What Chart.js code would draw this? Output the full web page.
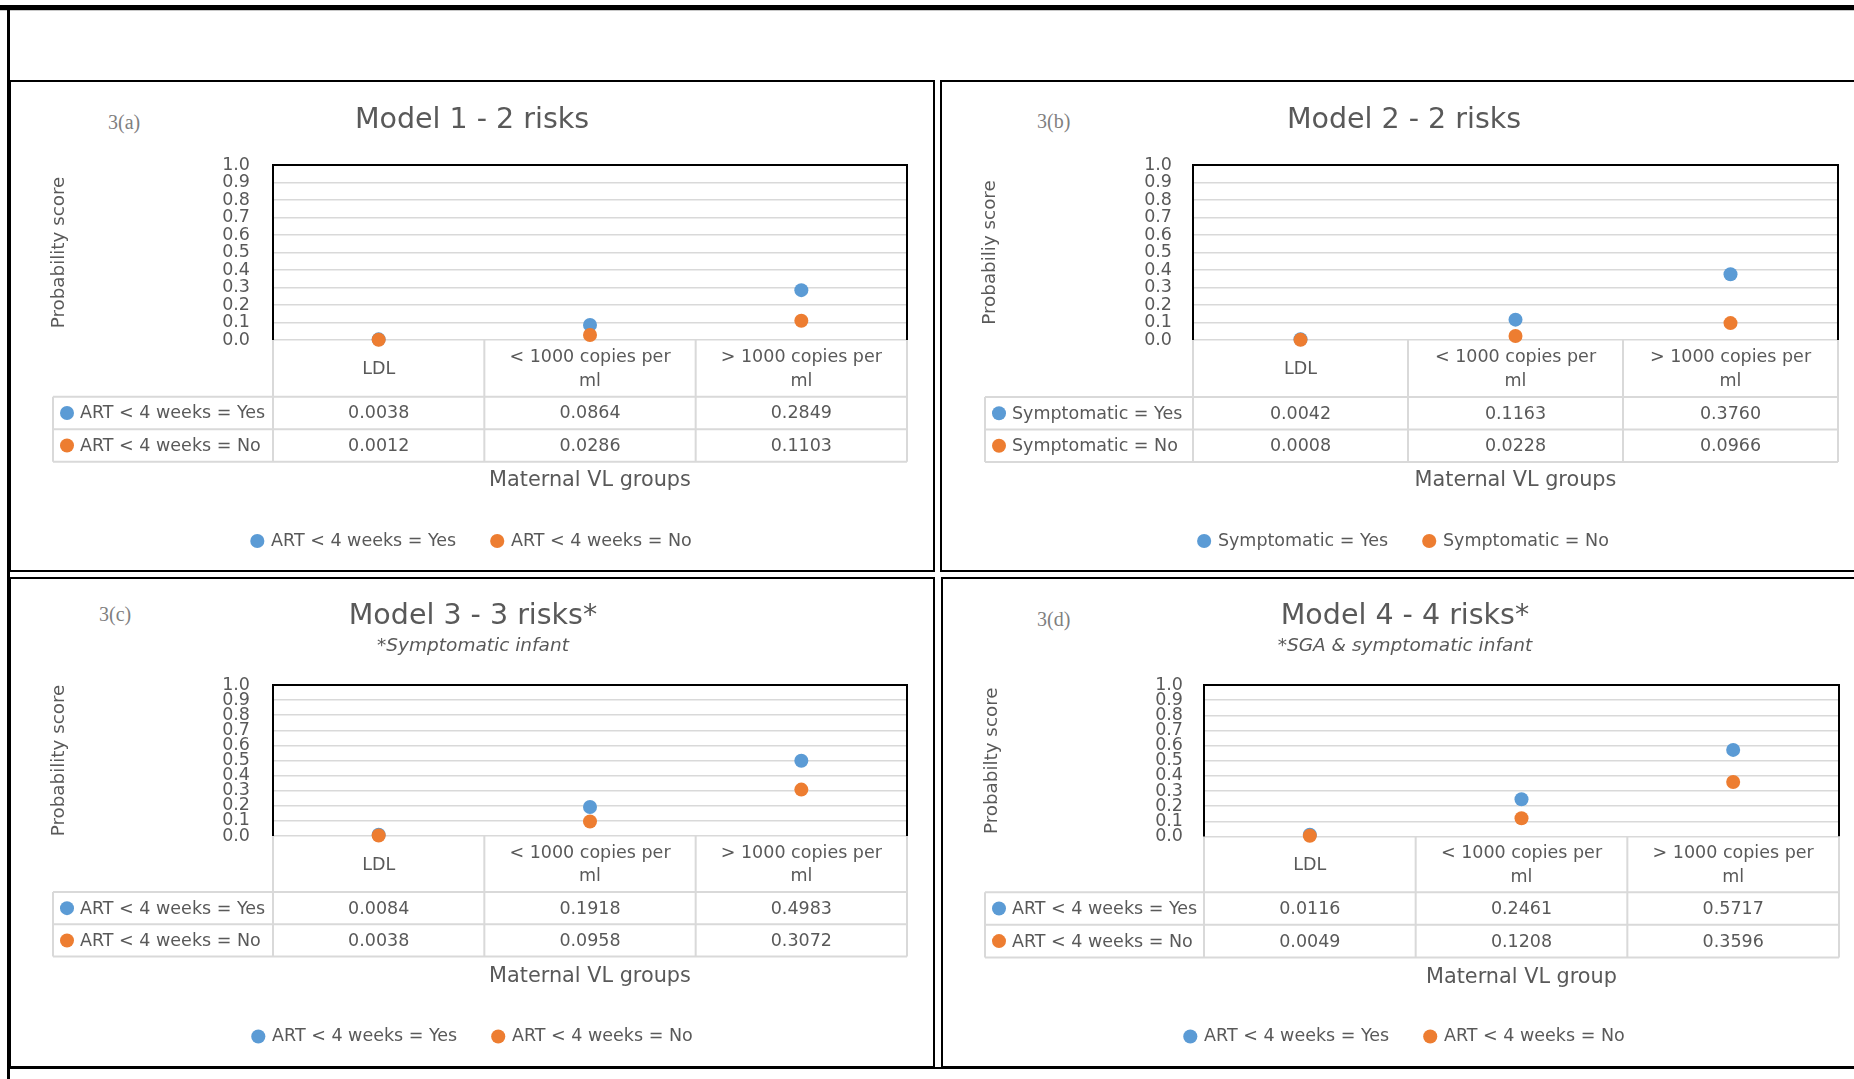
<!DOCTYPE html>
<html>
<head>
<meta charset="utf-8">
<title>Probability score by maternal VL group</title>
<script src="https://cdn.jsdelivr.net/npm/chart.js@4.4.1/dist/chart.umd.min.js"></script>
<style>
  body { margin: 0; background: #fff; }
  #page { position: relative; width: 1854px; height: 1079px; overflow: hidden; background: #fff; }
  .rule { position: absolute; background: #000; }
  .box { position: absolute; box-sizing: border-box; border: 2px solid #000; }
  .tag { position: absolute; font-family: 'Liberation Serif', 'DejaVu Serif', serif; font-size: 20px; line-height: 20px; color: #7f7f7f; }
  canvas { position: absolute; }
</style>
</head>
<body>
<div id="page">
  <div class="rule" style="left:0;top:5px;width:1854px;height:5px"></div>
  <div class="rule" style="left:0;top:10px;width:1854px;height:1px;background:#c8c8c8"></div>
  <div class="rule" style="left:7px;top:10px;width:3px;height:1069px"></div>
  <div class="box" style="left:9px;top:80px;width:926px;height:492px"></div>
  <div class="box" style="left:940px;top:80px;width:940px;height:492px"></div>
  <div class="box" style="left:9px;top:577px;width:926px;height:491px"></div>
  <div class="box" style="left:941px;top:577px;width:940px;height:491px"></div>
  <div class="rule" style="left:7px;top:1067px;width:1847px;height:2px"></div>
</div>
<script>
// categories (x axis / table header), split over two lines like the original
const categories = [['LDL'], ['< 1000 copies per', 'ml'], ['> 1000 copies per', 'ml']];

const panelTags = ['3(a)', '3(b)', '3(c)', '3(d)'];
const modelTitles = ['Model 1 - 2 risks', 'Model 2 - 2 risks', 'Model 3 - 3 risks*', 'Model 4 - 4 risks*'];
const modelNotes = ['', '', '*Symptomatic infant', '*SGA & symptomatic infant'];
const yTitles = ['Probability score', 'Probabiliy score', 'Probability score', 'Probabilty score'];
const xTitles = ['Maternal VL groups', 'Maternal VL groups', 'Maternal VL groups', 'Maternal VL group'];
const yesNames = ['ART < 4 weeks = Yes', 'Symptomatic = Yes', 'ART < 4 weeks = Yes', 'ART < 4 weeks = Yes'];
const noNames = ['ART < 4 weeks = No', 'Symptomatic = No', 'ART < 4 weeks = No', 'ART < 4 weeks = No'];

const model1Yes = [0.0038, 0.0864, 0.2849];
const model1No = [0.0012, 0.0286, 0.1103];
const model2Yes = [0.0042, 0.1163, 0.3760];
const model2No = [0.0008, 0.0228, 0.0966];
const model3Yes = [0.0084, 0.1918, 0.4983];
const model3No = [0.0038, 0.0958, 0.3072];
const model4Yes = [0.0116, 0.2461, 0.5717];
const model4No = [0.0049, 0.1208, 0.3596];

const yesSeries = [model1Yes, model2Yes, model3Yes, model4Yes];
const noSeries = [model1No, model2No, model3No, model4No];

// page geometry of each panel (px)
const panelGeom = [
  { box: [12, 83, 921, 486], plot: [273, 907, 165, 340], titleX: 472, titleY: 121, noteY: 0, yTitleX: 59, tickRight: 250,
    headerH: 56.7, rowH: 32.5, lineH: 24, tableLeft: 53, xTitleY: 481, legendY: 541, tag: [108, 122] },
  { box: [943, 83, 923, 486], plot: [1193, 1838, 165, 340], titleX: 1404, titleY: 121, noteY: 0, yTitleX: 990, tickRight: 1172,
    headerH: 57, rowH: 32.5, lineH: 24, tableLeft: 985, xTitleY: 481, legendY: 541, tag: [1037, 121] },
  { box: [12, 579, 921, 487], plot: [273, 907, 685, 836], titleX: 473, titleY: 617, noteY: 646, yTitleX: 59, tickRight: 250,
    headerH: 56, rowH: 32.3, lineH: 23.3, tableLeft: 53, xTitleY: 977, legendY: 1036.5, tag: [99, 614] },
  { box: [943, 579, 923, 487], plot: [1204, 1839, 685, 836.5], titleX: 1405, titleY: 617, noteY: 646.5, yTitleX: 992, tickRight: 1183,
    headerH: 55.7, rowH: 32.6, lineH: 23.3, tableLeft: 985, xTitleY: 978, legendY: 1036.5, tag: [1037, 619] }
];

const FONT = "'DejaVu Sans', sans-serif";
const TXT = '#595959';
const BLUE = '#5B9BD5';
const ORANGE = '#ED7D31';
const fs = 17.5;
const titleSize = 28.5, titleLH = titleSize * 1.2;
const noteSize = 18.5, noteLH = noteSize * 1.2;
const xTitleSize = 20.8, xTitleLH = xTitleSize * 1.2;
const yTitleSize = 18.3, yTitleLH = yTitleSize * 1.2;
const legendPad = 36;

// plot frame (top/right) + data table under the plot
const dataTable = {
  id: 'dataTable',
  afterDraw(chart, args, o) {
    const { ctx, chartArea: a, scales: { x } } = chart;
    const n = chart.data.labels.length;
    const colW = (a.right - a.left) / n;
    const head = a.bottom + o.headerH;
    const sets = chart.data.datasets;
    const bottom = head + o.rowH * sets.length;
    ctx.save();
    ctx.strokeStyle = '#000';
    ctx.lineWidth = 2;
    ctx.beginPath();
    ctx.moveTo(a.left - 1, a.top);
    ctx.lineTo(a.right, a.top);
    ctx.lineTo(a.right, a.bottom);
    ctx.stroke();

    ctx.strokeStyle = '#d9d9d9';
    ctx.beginPath();
    for (let c = 0; c <= n; c++) {
      const ex = c < n ? x.getPixelForValue(c) - colW / 2 : a.right;
      ctx.moveTo(ex, a.bottom);
      ctx.lineTo(ex, bottom);
    }
    ctx.moveTo(o.tableLeft, head);
    ctx.lineTo(o.tableLeft, bottom);
    for (let r = 0; r <= sets.length; r++) {
      ctx.moveTo(o.tableLeft, head + r * o.rowH);
      ctx.lineTo(a.right, head + r * o.rowH);
    }
    ctx.stroke();

    ctx.font = fs + "px " + FONT;
    ctx.fillStyle = TXT;
    ctx.textBaseline = 'middle';
    sets.forEach((ds, r) => {
      const cy = head + o.rowH * (r + 0.5);
      ctx.fillStyle = ds.backgroundColor;
      ctx.beginPath();
      ctx.arc(o.tableLeft + 14, cy, 7, 0, Math.PI * 2);
      ctx.fill();
      ctx.fillStyle = TXT;
      ctx.textAlign = 'left';
      ctx.fillText(ds.label, o.tableLeft + 27, cy + 1);
      ctx.textAlign = 'center';
      ds.data.forEach((v, c) => ctx.fillText(v.toFixed(4), x.getPixelForValue(c), cy + 1));
    });
    ctx.restore();
  }
};

const page = document.getElementById('page');

function makePanel(i) {
  const g = panelGeom[i];
  const [bx, by, bw, bh] = g.box;

  const tag = document.createElement('div');
  tag.className = 'tag';
  tag.textContent = panelTags[i];
  tag.style.left = g.tag[0] + 'px';
  tag.style.top = (g.tag[1] - 10) + 'px';
  page.appendChild(tag);

  const canvas = document.createElement('canvas');
  canvas.width = bw;
  canvas.height = bh;
  canvas.style.left = bx + 'px';
  canvas.style.top = by + 'px';
  canvas.style.width = bw + 'px';
  canvas.style.height = bh + 'px';
  page.appendChild(canvas);

  const pl = g.plot[0] - bx, pr = g.plot[1] - bx, pt = g.plot[2] - by, pb = g.plot[3] - by;
  const padRight = bw - pr;
  const padLeft = 2 * (g.titleX - bx) - pr;
  const yAxisW = pl - padLeft;
  const yTitlePad = (g.yTitleX - bx) - padLeft - yTitleLH / 2;

  const titleTop = (g.titleY - by) - titleLH / 2;
  let titlePad, notePad = 0;
  if (modelNotes[i]) {
    const tBottom = titleTop + titleLH;
    const nTop = (g.noteY - by) - noteLH / 2 - tBottom;
    titlePad = { top: titleTop, bottom: 0 };
    notePad = { top: nTop, bottom: pt - (tBottom + nTop + noteLH) };
  } else {
    titlePad = { top: titleTop, bottom: pt - titleTop - titleLH };
  }

  const axisBottom = (g.legendY - by) - legendPad - fs / 2;
  const xAxisH = axisBottom - pb;
  const xTitlePadB = axisBottom - (g.xTitleY - by) - xTitleLH / 2;
  const legendH = fs + legendPad + 10;
  const padBottom = bh - axisBottom - legendH;

  new Chart(canvas, {
    type: 'line',
    data: {
      labels: categories,
      datasets: [
        { label: yesNames[i], data: yesSeries[i], backgroundColor: BLUE, borderColor: BLUE,
          showLine: false, pointRadius: 7, pointHoverRadius: 7, borderWidth: 0, pointStyle: 'circle', order: 1, clip: false },
        { label: noNames[i], data: noSeries[i], backgroundColor: ORANGE, borderColor: ORANGE,
          showLine: false, pointRadius: 7, pointHoverRadius: 7, borderWidth: 0, pointStyle: 'circle', order: 0, clip: false }
      ]
    },
    options: {
      responsive: false,
      devicePixelRatio: 1,
      animation: false,
      events: [],
      layout: { padding: { left: padLeft, right: padRight, top: 0, bottom: padBottom } },
      scales: {
        x: {
          type: 'category',
          offset: true,
          grid: { display: false, drawTicks: false },
          border: { display: false },
          ticks: {
            autoSkip: false, maxRotation: 0, minRotation: 0, crossAlign: 'center',
            padding: g.headerH / 2 - g.lineH / 2 + 1,
            color: TXT,
            font: { family: FONT, size: fs, lineHeight: g.lineH / fs }
          },
          title: {
            display: true, text: xTitles[i], color: TXT,
            font: { family: FONT, size: xTitleSize, lineHeight: 1.2 },
            padding: { top: 0, bottom: xTitlePadB }
          },
          afterFit: (s) => { s.height = xAxisH; }
        },
        y: {
          min: 0,
          max: 1,
          grid: { color: '#d9d9d9', lineWidth: 1.5, drawTicks: false },
          border: { display: true, color: '#000', width: 2 },
          ticks: {
            stepSize: 0.1, autoSkip: false,
            padding: g.plot[0] - g.tickRight,
            color: TXT,
            font: { family: FONT, size: fs, lineHeight: 1.2 },
            callback: (v) => Number(v).toFixed(1)
          },
          title: {
            display: true, text: yTitles[i], color: TXT,
            font: { family: FONT, size: yTitleSize, lineHeight: 1.2 },
            padding: { top: yTitlePad, bottom: 0 }
          },
          afterFit: (s) => { s.width = yAxisW; }
        }
      },
      plugins: {
        title: {
          display: true, text: modelTitles[i], color: TXT,
          font: { family: FONT, size: titleSize, weight: 'normal', lineHeight: 1.2 },
          padding: titlePad
        },
        subtitle: {
          display: !!modelNotes[i], text: modelNotes[i], color: TXT,
          font: { family: FONT, size: noteSize, style: 'italic', lineHeight: 1.2 },
          padding: notePad
        },
        legend: {
          position: 'bottom',
          labels: {
            usePointStyle: true, pointStyle: 'circle', boxWidth: 10, boxHeight: 10,
            padding: legendPad, color: TXT,
            font: { family: FONT, size: fs },
            sort: (a, b) => a.datasetIndex - b.datasetIndex
          }
        },
        tooltip: { enabled: false },
        dataTable: { headerH: g.headerH, rowH: g.rowH, tableLeft: g.tableLeft - bx }
      }
    },
    plugins: [dataTable]
  });
}

for (let i = 0; i < 4; i++) makePanel(i);
</script>
</body>
</html>
